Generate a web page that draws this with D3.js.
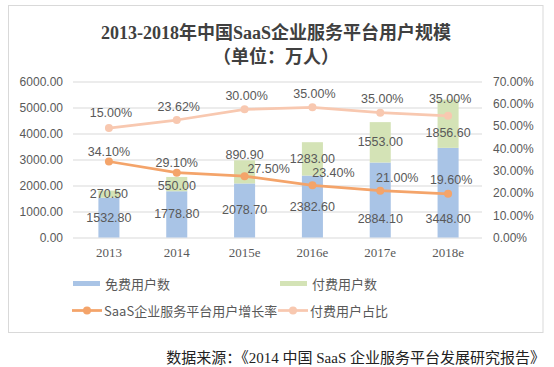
<!DOCTYPE html>
<html>
<head>
<meta charset="utf-8">
<script src="https://cdn.jsdelivr.net/npm/d3@7"></script>
<style>
  html, body { margin: 0; padding: 0; background: #ffffff; }
  svg { display: block; }
</style>
</head>
<body>
<div id="chart"></div>
<script>
// ---------- data ----------
const categories = ["2013", "2014", "2015e", "2016e", "2017e", "2018e"];
const freeUsers  = [1532.8, 1778.8, 2078.7, 2382.6, 2884.1, 3448.0];
const paidUsers  = [270.5, 550.0, 890.9, 1283.0, 1553.0, 1856.6];
const growthRate = [34.10, 29.10, 27.50, 23.40, 21.00, 19.60];   // SaaS企业服务平台用户增长率 (%)
const paidShare  = [15.00, 23.62, 30.00, 35.00, 35.00, 35.00];   // 付费用户占比 (%), stacked on growth rate
const leftTicks  = [0, 1000, 2000, 3000, 4000, 5000, 6000];
const rightTicks = [0, 10, 20, 30, 40, 50, 60, 70];

const titleLines = ["2013-2018年中国SaaS企业服务平台用户规模", "（单位：万人）"];
const seriesNames = ["免费用户数", "付费用户数", "SaaS企业服务平台用户增长率", "付费用户占比"];
const sourceText = "数据来源：《2014 中国 SaaS 企业服务平台发展研究报告》";

// ---------- layout (label nudges, px) ----------
const growthLabelDx = [0, 0, 24, 21, 17, 3];
const growthLabelDy = [-10, -10, -7, -12, -13, -14];
const shareLabelDy  = [-15, -13, -13, -13, -14, -17];
const freeLabelDy   = [0, 0, 0, 0, 19, 26];
const paidLabelDy   = [0, 2, -17, 0, 0, 9];

const W = 554, H = 367;
const colors = { free: "#a9c4e6", paid: "#d4e3b6", growth: "#f4a46a", share: "#f8c8b0" };
const labelColor = "#595959";
const sansFont = "'Liberation Sans', Arial, 'Noto Sans CJK SC', sans-serif";
const serifFont = "'Liberation Serif', 'Times New Roman', 'Noto Sans CJK SC', serif";
const cjkFont = "'Noto Sans CJK SC', 'Liberation Sans', sans-serif";

const svg = d3.select("#chart").append("svg").attr("width", W).attr("height", H);

// outer frame
svg.append("rect").attr("x", 8.5).attr("y", 5.5).attr("width", 534.5).attr("height", 327)
  .attr("fill", "#fff").attr("stroke", "#d9d9d9").attr("stroke-width", 1);

// title
svg.append("text").attr("x", 276).attr("y", 39).attr("text-anchor", "middle")
  .attr("font-family", serifFont).attr("font-weight", "bold").attr("font-size", 18)
  .attr("fill", "#404040").text(titleLines[0]);
svg.append("text").attr("x", 276).attr("y", 63).attr("text-anchor", "middle")
  .attr("font-family", serifFont).attr("font-weight", "bold").attr("font-size", 18)
  .attr("fill", "#404040").text(titleLines[1]);

// scales
const x = d3.scaleBand().domain(categories).range([75, 482]).paddingInner(0.69).paddingOuter(0.345);
const yL = d3.scaleLinear().domain([0, 6000]).range([237.5, 81.5]);
const yR = d3.scaleLinear().domain([0, 70]).range([237.5, 81.5]);
const cx = c => x(c) + x.bandwidth() / 2;

// left axis with gridlines
const gL = svg.append("g").attr("transform", "translate(73,0)")
  .call(d3.axisLeft(yL).tickValues(leftTicks).tickFormat(d3.format(".2f"))
    .tickSizeInner(-409).tickSizeOuter(0).tickPadding(10));
gL.select(".domain").remove();
gL.selectAll(".tick line").attr("stroke", "#d9d9d9");
gL.selectAll(".tick text").attr("font-family", sansFont).attr("font-size", 12).attr("fill", labelColor);

// right axis
const gR = svg.append("g").attr("transform", "translate(482,0)")
  .call(d3.axisRight(yR).tickValues(rightTicks).tickFormat(d => d.toFixed(2) + "%")
    .tickSize(0).tickPadding(11));
gR.select(".domain").remove();
gR.selectAll(".tick text").attr("font-family", sansFont).attr("font-size", 12).attr("fill", labelColor);

// x axis labels
const gX = svg.append("g").attr("transform", "translate(0,237.5)")
  .call(d3.axisBottom(x).tickSize(0).tickPadding(10));
gX.select(".domain").remove();
gX.selectAll(".tick text").attr("font-family", serifFont).attr("font-size", 13).attr("fill", labelColor);

// stacked bars
const barRows = categories.map((c, i) => ({ cat: c, free: freeUsers[i], paid: paidUsers[i] }));
const barStack = d3.stack().keys(["free", "paid"])(barRows);
svg.append("g").selectAll("g").data(barStack).join("g")
  .attr("fill", d => colors[d.key])
  .selectAll("rect").data(d => d).join("rect")
  .attr("x", d => x(d.data.cat)).attr("width", x.bandwidth())
  .attr("y", d => yL(d[1])).attr("height", d => yL(d[0]) - yL(d[1]));

// lines (stacked line chart on secondary axis)
const lineRows = categories.map((c, i) => ({ cat: c, growth: growthRate[i], share: paidShare[i] }));
const lineStack = d3.stack().keys(["growth", "share"])(lineRows);
const line = d3.line().x(d => cx(d.data.cat)).y(d => yR(d[1]));
lineStack.forEach(s => {
  svg.append("path").datum(s).attr("d", line).attr("fill", "none")
    .attr("stroke", colors[s.key]).attr("stroke-width", 2.75).attr("stroke-linejoin", "round");
  svg.append("g").selectAll("circle").data(s).join("circle")
    .attr("cx", d => cx(d.data.cat)).attr("cy", d => yR(d[1])).attr("r", 4)
    .attr("fill", colors[s.key]);
});

// bar labels
const lbl = (xx, yy, t) => svg.append("text").attr("x", xx).attr("y", yy)
  .attr("text-anchor", "middle").attr("dominant-baseline", "central")
  .attr("font-family", sansFont).attr("font-size", 12.5).attr("fill", labelColor).text(t);

barStack[0].forEach((d, i) => lbl(cx(d.data.cat), yL((d[0] + d[1]) / 2) + freeLabelDy[i], d.data.free.toFixed(2)));
barStack[1].forEach((d, i) => lbl(cx(d.data.cat), yL((d[0] + d[1]) / 2) + paidLabelDy[i], d.data.paid.toFixed(2)));

// line labels
lineStack[0].forEach((d, i) => lbl(cx(d.data.cat) + growthLabelDx[i], yR(d[1]) + growthLabelDy[i], d.data.growth.toFixed(2) + "%"));
lineStack[1].forEach((d, i) => lbl(cx(d.data.cat) + 2, yR(d[1]) + shareLabelDy[i], d.data.share.toFixed(2) + "%"));

// legend
const lg = svg.append("g").attr("font-family", cjkFont).attr("font-size", 13).attr("fill", labelColor);
const legendItems = [
  { name: seriesNames[0], type: "rect", color: colors.free,   x: 73,  y: 283.5 },
  { name: seriesNames[1], type: "rect", color: colors.paid,   x: 280, y: 283.5 },
  { name: seriesNames[2], type: "line", color: colors.growth, x: 72,  y: 310.5 },
  { name: seriesNames[3], type: "line", color: colors.share,  x: 278, y: 310.5 }
];
legendItems.forEach(it => {
  if (it.type === "rect") {
    lg.append("rect").attr("x", it.x).attr("y", it.y - 2.5).attr("width", 27).attr("height", 5).attr("fill", it.color);
  } else {
    lg.append("line").attr("x1", it.x).attr("x2", it.x + 30).attr("y1", it.y).attr("y2", it.y)
      .attr("stroke", it.color).attr("stroke-width", 2.75);
    lg.append("circle").attr("cx", it.x + 15).attr("cy", it.y).attr("r", 4).attr("fill", it.color);
  }
  lg.append("text").attr("x", it.x + 32).attr("y", it.y).attr("dominant-baseline", "central").text(it.name);
});

// source
svg.append("text").attr("x", 545).attr("y", 363).attr("text-anchor", "end")
  .attr("font-family", serifFont).attr("font-size", 15).attr("fill", "#222").text(sourceText);
</script>
</body>
</html>
